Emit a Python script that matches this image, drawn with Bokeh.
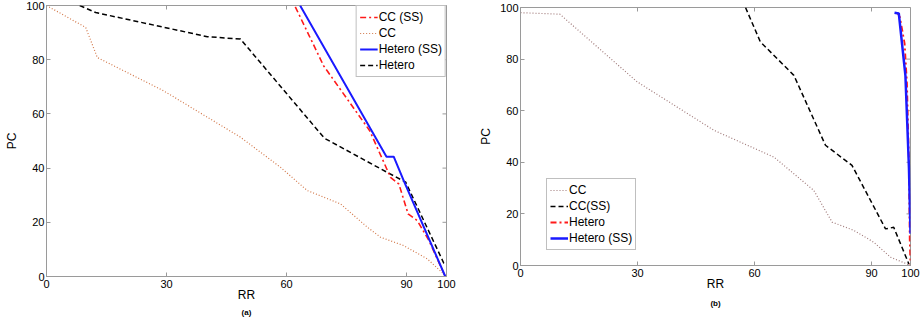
import math
from bokeh.plotting import figure
from bokeh.models import (Legend, LegendItem, Title, FixedTicker, Range1d)
from bokeh.embed import file_html
from bokeh.resources import INLINE

# ---------------- data: panel (a) ----------------
a_ccss_x = [62.2, 69.3, 80.8, 86.0, 88.1, 90.4, 92.7, 95.6, 99.7]
a_ccss_y = [99.5, 77.7, 53.8, 36.6, 34.1, 23.1, 20.6, 13.3, 0.0]

a_cc_x = [0, 9.8, 12.7, 29.3, 48.5, 58.5, 65.2, 73.5, 80.2, 83.5, 89.3, 95.2, 100]
a_cc_y = [100, 91.9, 80.8, 68.5, 51.4, 40.3, 31.7, 26.8, 18.2, 14.5, 11.4, 6.5, 0]

a_hetss_x = [63.4, 85.0, 86.8, 89.3, 99.7]
a_hetss_y = [100, 44.2, 44.2, 35.4, 0]

a_het_x = [8.3, 12.3, 40.2, 48.5, 69.5, 85.2, 89.8, 99.3, 100]
a_het_y = [100, 97.4, 88.5, 87.6, 51.0, 38.4, 34.8, 5.0, 4.5]

# ---------------- data: panel (b) ----------------
b_cc_x = [0, 10.1, 29.9, 49.6, 65.0, 75.2, 79.9, 85.5, 90.6, 94.9, 99.1, 100]
b_cc_y = [98, 97.4, 71.2, 52.4, 42.0, 29.1, 16.8, 13.6, 9.0, 3.2, 0.6, 0]

b_ccss_x = [57.7, 61.5, 70.1, 78.2, 85.0, 93.6, 95.7, 99.6]
b_ccss_y = [100, 86.7, 73.7, 46.6, 38.8, 14.2, 14.8, 0.5]

b_het_x = [96.6, 97.3, 98.5, 99.1, 99.6, 99.8, 100]
b_het_y = [98, 96.2, 86, 70.5, 40, 10, 0]

b_hetss_x = [95.9, 97.0, 98.7, 99.6, 100]
b_hetss_y = [98, 97.7, 73.6, 38, 12.3]

x_ticks = [0, 30, 60, 90, 100]
y_ticks = [0, 20, 40, 60, 80, 100]
x_title = "RR"
y_title = "PC"
X_MIN, X_MAX = 0, 100
Y_MIN, Y_MAX = 0, 100

FONT = "Liberation Sans"
FRAME = "#9a9a9a"


def make_fig(width, height, bl, br, bt, bb, caption, cap_standoff):
    p = figure(width=width, height=height, output_backend="svg",
               toolbar_location=None, x_range=Range1d(X_MIN, X_MAX),
               y_range=Range1d(Y_MIN, Y_MAX), min_border_left=bl,
               min_border_right=br, min_border_top=bt, min_border_bottom=bb)
    p.xgrid.visible = False
    p.ygrid.visible = False
    p.outline_line_color = FRAME
    p.outline_line_width = 1
    p.background_fill_color = "white"
    p.border_fill_color = "white"
    p.xaxis.ticker = FixedTicker(ticks=x_ticks)
    p.yaxis.ticker = FixedTicker(ticks=y_ticks)
    p.xaxis.axis_label = x_title
    p.yaxis.axis_label = y_title
    for ax in (p.xaxis[0], p.yaxis[0]):
        ax.axis_line_color = FRAME
        ax.major_tick_line_color = FRAME
        ax.major_tick_in = 4
        ax.major_tick_out = 0
        ax.minor_tick_line_color = None
        ax.major_label_text_font = FONT
        ax.major_label_text_font_size = "11px"
        ax.major_label_text_color = "black"
        ax.axis_label_text_font = FONT
        ax.axis_label_text_font_size = "12px"
        ax.axis_label_text_font_style = "normal"
        ax.axis_label_text_color = "black"
    p.xaxis.major_label_standoff = 3
    p.yaxis.major_label_standoff = 2
    p.xaxis.axis_label_standoff = -3
    p.yaxis.axis_label_standoff = 4
    # inner ticks on the top and right edges of the box
    p.scatter(x_ticks, [Y_MAX] * len(x_ticks), marker="dash", angle=math.pi / 2,
              size=8, line_color=FRAME, line_width=1)
    p.scatter([X_MAX] * len(y_ticks), y_ticks, marker="dash", size=8,
              line_color=FRAME, line_width=1)
    p.add_layout(Title(text=caption, align="center", text_font=FONT,
                       text_font_size="8px", text_font_style="bold",
                       text_color="black", standoff=cap_standoff, offset=0),
                 "below")
    return p


def style_legend(leg):
    leg.label_text_font = FONT
    leg.label_text_font_size = "12px"
    leg.label_text_color = "black"
    leg.glyph_width = 18
    leg.glyph_height = 16
    leg.label_height = 16
    leg.label_standoff = 1
    leg.spacing = 0
    leg.padding = 3
    leg.margin = 0
    leg.border_line_color = "#808080"
    leg.border_line_width = 1
    leg.background_fill_color = "white"
    leg.background_fill_alpha = 1


# ---------------- panel (a) ----------------
pa = make_fig(460, 318, 46, 14, 5, 42, "(a)", 3)
r_a_cc = pa.line(a_cc_x, a_cc_y, line_color="#d2784a", line_width=1.2,
                 line_dash="1 2")
r_a_het = pa.line(a_het_x, a_het_y, line_color="black", line_width=1.5,
                  line_dash="5 3")
r_a_ccss = pa.line(a_ccss_x, a_ccss_y, line_color="#ff1a1a", line_width=1.6,
                   line_dash="6 3 2 3")
r_a_hetss = pa.line(a_hetss_x, a_hetss_y, line_color="#1a1aff", line_width=2)
leg_a = Legend(items=[LegendItem(label="CC (SS)", renderers=[r_a_ccss]),
                      LegendItem(label="CC", renderers=[r_a_cc]),
                      LegendItem(label="Hetero (SS)", renderers=[r_a_hetss]),
                      LegendItem(label="Hetero", renderers=[r_a_het])],
               location="top_right")
style_legend(leg_a)
pa.add_layout(leg_a)
pa.styles = {"position": "absolute", "left": "0px", "top": "0px"}

# ---------------- panel (b) ----------------
pb = make_fig(460, 318, 60, 10, 7, 53, "(b)", 7)
r_b_cc = pb.line(b_cc_x, b_cc_y, line_color="#a07a7a", line_width=1.2,
                 line_dash="1 2")
r_b_ccss = pb.line(b_ccss_x, b_ccss_y, line_color="black", line_width=1.5,
                   line_dash="5 3")
r_b_het = pb.line(b_het_x, b_het_y, line_color="#ff1a1a", line_width=1.8,
                  line_dash="6 3 2 3")
r_b_hetss = pb.line(b_hetss_x, b_hetss_y, line_color="#1a1aff", line_width=2.5)
leg_b = Legend(items=[LegendItem(label="CC", renderers=[r_b_cc]),
                      LegendItem(label="CC(SS)", renderers=[r_b_ccss]),
                      LegendItem(label="Hetero", renderers=[r_b_het]),
                      LegendItem(label="Hetero (SS)", renderers=[r_b_hetss])],
               location=(26, 15))
style_legend(leg_b)
pb.add_layout(leg_b)
pb.styles = {"position": "absolute", "left": "460px", "top": "0px"}

open("out.html", "w").write(file_html([pa, pb], INLINE))
